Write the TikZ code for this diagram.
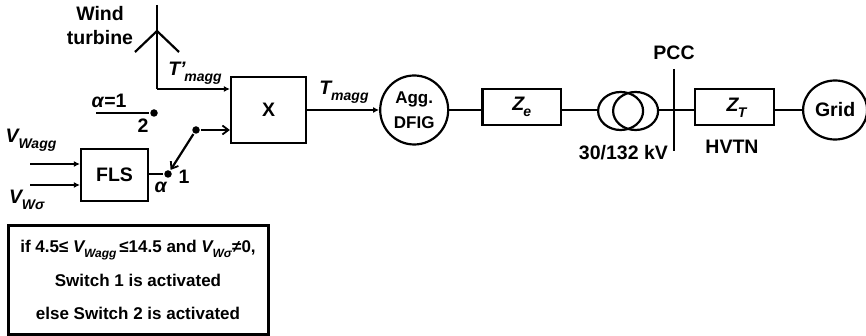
\documentclass[tikz,border=0pt]{standalone}
\usepackage{fontspec}
\setmainfont{Liberation Sans}
\usepackage{xcolor}
\usetikzlibrary{arrows.meta,positioning,shapes.geometric}
\newcommand{\subvar}[3][14]{\textit{#2}\kern-1.5pt\raisebox{-.3em}{\fontsize{#1}{#1}\selectfont\textit{#3}}}

\begin{document}
\begin{tikzpicture}[
  x=1pt,y=-1pt,
  line width=2.2pt,
  lbl/.style={inner sep=0pt,font=\fontsize{19.5}{24}\selectfont\bfseries,align=center},
  block/.style={draw,rectangle,inner sep=0pt,lbl,minimum width=78.5pt,minimum height=36pt},
  machine/.style={draw,ellipse,inner sep=0pt,lbl},
  winding/.style={draw,ellipse,inner sep=0pt,minimum width=45pt,minimum height=38pt},
  dot/.style={circle,fill=black,inner sep=0pt,minimum size=7.5pt},
  arrow/.style={-{Latex[length=6pt,width=6pt]}},
  openarrow/.style={-{Straight Barb[length=6pt,width=9pt,line width=1.8pt]}}
]
\useasboundingbox (0,0) rectangle (866,336);
% main power line
\node[block,minimum width=75pt,minimum height=66pt] (mult) at (268.5,110) {X};
\node[machine,minimum width=68pt,minimum height=69pt,right=72pt of mult,font=\fontsize{17}{25}\selectfont\bfseries] (dfig) {Agg.\\DFIG};
\node[block,right=32pt of dfig,yshift=3pt] (ze) {\subvar{Z}{e}};
\node[winding,anchor=west] (tra) at (597,111) {};
\node[winding,anchor=west] (trb) at (612,111) {};
\node[block,anchor=west] (zt) at (694,107) {};
\node[lbl] at (737,108) (ztlbl) {\subvar{Z}{T}};
\node[machine,minimum width=64pt,minimum height=59pt,anchor=west] (grid) at (802,110) {Grid};
\coordinate (pcctop) at (674,69);
\coordinate (pccbot) at (674,151);
\draw (pcctop) -- (pccbot);
\draw[arrow] (mult.east) -- (dfig.west);
\draw (dfig.east) -- (dfig.east -| ze.west);
\draw (ze.east |- dfig) -- (tra.west |- dfig);
\draw (trb.east |- dfig) -- (zt.west |- dfig);
\draw (zt.east |- dfig) -- (grid.west);
\node[lbl,above=8pt of pcctop] (pcc) {PCC};
\node[lbl,anchor=east] (kv) at (669,153) {30/132 kV};
\node[lbl] (hvtn) at (732,147) {HVTN};
\node[lbl] (tmagg) at (344,92) {\subvar{T}{magg}};
% turbine
\coordinate (tip) at (157,5);
\coordinate (hub) at (157,31);
\coordinate (bladel) at (135,52);
\coordinate (blader) at (179,52);
\coordinate (foot) at (157,89);
\draw (tip) -- (foot);
\draw (bladel) -- (hub) -- (blader);
\draw[arrow] (foot) -- (foot -| mult.west);
\node[lbl] (wind) at (100,26) {Wind\\turbine};
\node[lbl] (tpmagg) at (195,73) {\subvar{T'}{magg}};
% fuzzy logic and switch
\node[block,minimum width=67pt,minimum height=52pt] (fls) at (114.5,175) {FLS};
\coordinate (ina) at (30,164);
\coordinate (inb) at (30,185);
\draw[arrow] (ina) -- (ina -| fls.west);
\draw[arrow] (inb) -- (inb -| fls.west);
\node[lbl] (vwagg) at (31,140) {\subvar{V}{Wagg}};
\node[lbl] (vwsig) at (27,200) {\subvar{V}{Wσ}};
\node[dot] (swa) at (168,174) {};
\node[dot] (swb) at (196,130) {};
\node[dot] (swc) at (154,113) {};
\coordinate (swcend) at (96,113);
\draw (fls.east |- swa) -- (swa);
\draw (swcend) -- (swc);
\draw[openarrow] (swb) -- (swa);
\draw[openarrow] (swb) -- (swb -| mult.west);
\node[lbl] (one) at (184,177) {1};
\node[lbl] (two) at (143,126) {2};
\node[lbl] (alpha) at (161,187) {\textit{α}};
\node[lbl] (alphaone) at (109,101) {\textit{α}=1};
% rule box
\node[draw,line width=3pt,rectangle,inner sep=0pt,minimum width=260pt,minimum height=108pt,align=center,
  font=\fontsize{17}{33.5}\selectfont\bfseries] (rule) at (138,280)
  {if 4.5≤ \subvar[12]{V}{Wagg}\,≤14.5 and \subvar[12]{V}{Wσ}≠0,\\Switch 1 is activated\\else Switch 2 is activated};
\end{tikzpicture}
\end{document}
